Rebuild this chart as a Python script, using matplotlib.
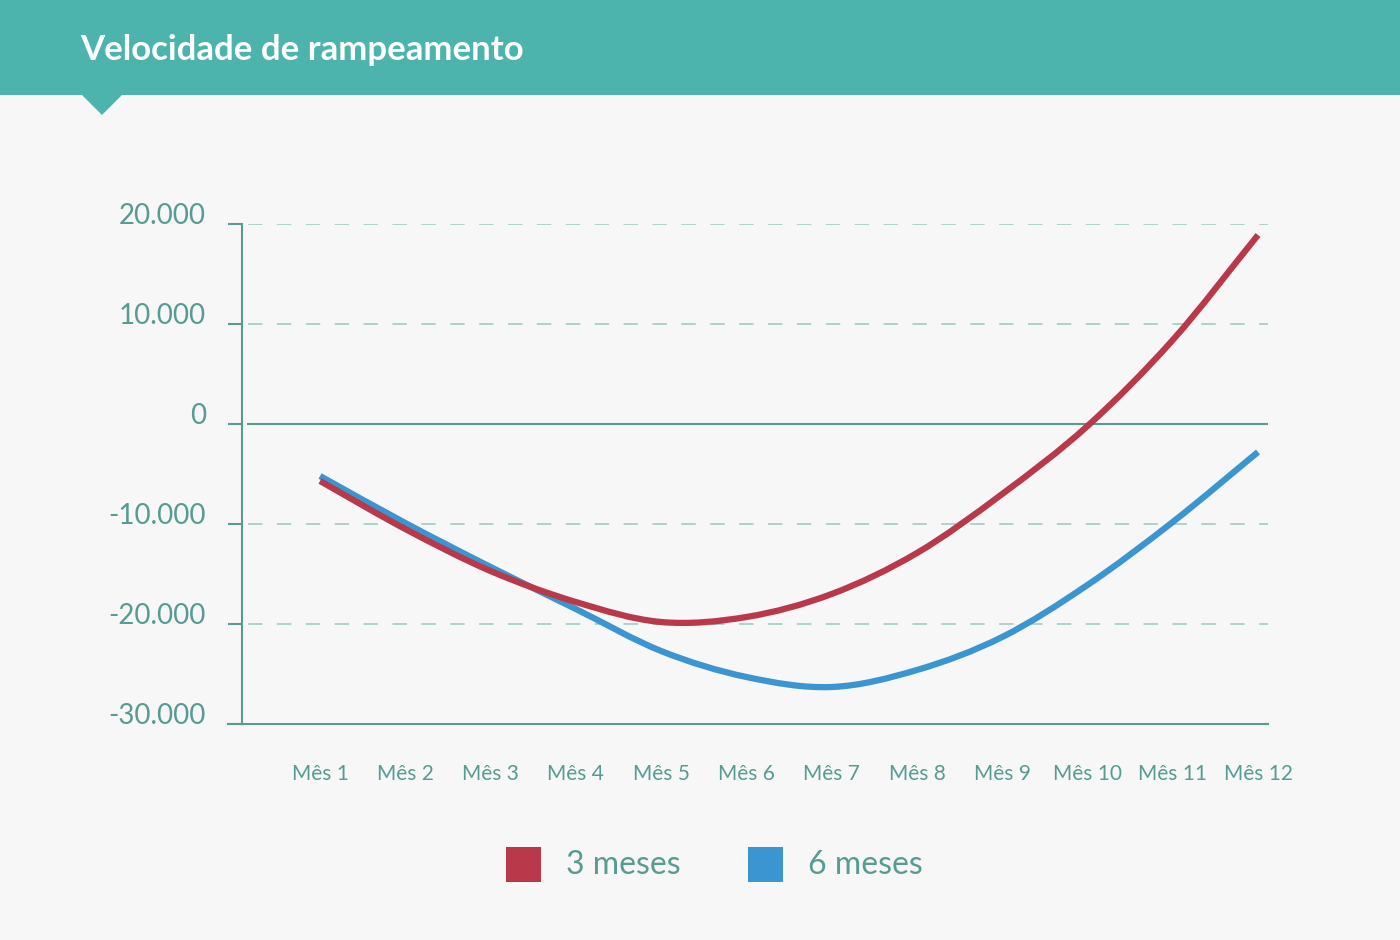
import matplotlib.pyplot as plt
from matplotlib.path import Path
from matplotlib.patches import PathPatch, Polygon, Rectangle
import numpy as np

# data
meses = ["Mês 1", "Mês 2", "Mês 3", "Mês 4", "Mês 5", "Mês 6",
         "Mês 7", "Mês 8", "Mês 9", "Mês 10", "Mês 11", "Mês 12"]
tres_meses = [-5700, -10500, -14700, -17800, -19800, -19300,
              -17000, -12900, -7000, -200, 8400, 18900]
seis_meses = [-5200, -9900, -14300, -18500, -22700, -25300,
              -26300, -24600, -21300, -16100, -9800, -2800]
y_ticks = [-30000, -20000, -10000, 0, 10000, 20000]
y_labels = ["-30.000", "-20.000", "-10.000", "0", "10.000", "20.000"]
series_names = ["3 meses", "6 meses"]

TEAL = "#4db4ad"
TXT = "#579b93"
GRID = "#a9cec8"
RED = "#b9394b"
BLUE = "#3a95d0"
BG = "#f7f7f7"

plt.rcParams['font.family'] = ['Lato', 'DejaVu Sans']

fig = plt.figure(figsize=(14, 9.4), dpi=100)
fig.patch.set_facecolor(BG)

# header band + pointer
fig.patches.append(Rectangle((0, 1 - 95 / 940), 1, 95 / 940, transform=fig.transFigure,
                             facecolor=TEAL, edgecolor="none"))
fig.patches.append(Polygon([(82 / 1400, 1 - 95 / 940), (122 / 1400, 1 - 95 / 940),
                            (102 / 1400, 1 - 115 / 940)], closed=True,
                           transform=fig.transFigure, facecolor=TEAL, edgecolor="none"))
fig.text(80 / 1400, 1 - 50 / 940, "Velocidade de rampeamento", color="white",
         fontsize=25, fontweight="bold", va="center", ha="left")

ax = fig.add_axes([242 / 1400, 216 / 940, 1026 / 1400, 500 / 940])
ax.set_facecolor(BG)
x = np.arange(1, 13)
ax.set_xlim(0.085, 12.117)
ax.set_ylim(-30000, 20000)


def smooth_path(xs, ys):
    # Catmull-Rom through the points, drawn as cubic bezier segments
    pts = np.column_stack([xs, ys]).astype(float)
    verts = [pts[0]]
    codes = [Path.MOVETO]
    n = len(pts)
    for i in range(n - 1):
        p0 = pts[i - 1] if i > 0 else 2 * pts[i] - pts[i + 1]
        p1 = pts[i]
        p2 = pts[i + 1]
        p3 = pts[i + 2] if i + 2 < n else 2 * pts[i + 1] - pts[i]
        c1 = p1 + (p2 - p0) / 6
        c2 = p2 - (p3 - p1) / 6
        verts += [c1, c2, p2]
        codes += [Path.CURVE4] * 3
    return Path(verts, codes)


# grid
for yv in y_ticks:
    if yv == 0:
        ax.axhline(yv, xmin=6 / 1026, xmax=1, color=TXT, lw=1.5, zorder=1)
    elif yv != -30000:
        ax.axhline(yv, xmin=6 / 1026, xmax=1, color=GRID, lw=1.3,
                   dashes=(8, 8), zorder=1)

ax.add_patch(PathPatch(smooth_path(x, seis_meses), fill=False, edgecolor=BLUE,
                       lw=4.5, capstyle="butt", zorder=3))
ax.add_patch(PathPatch(smooth_path(x, tres_meses), fill=False, edgecolor=RED,
                       lw=4.5, capstyle="butt", zorder=4))

for s in ["top", "right"]:
    ax.spines[s].set_visible(False)
for s in ["left", "bottom"]:
    ax.spines[s].set_color(TXT)
    ax.spines[s].set_linewidth(1.5)

ax.set_yticks(y_ticks)
ax.set_yticklabels(y_labels)
ax.tick_params(axis="y", direction="out", length=10, width=1.5, color=TXT,
               labelcolor=TXT, labelsize=20, pad=16)
for lab in ax.get_yticklabels():
    lab.set_verticalalignment("baseline")

ax.set_xticks(x)
ax.set_xticklabels(meses)
ax.tick_params(axis="x", length=0, labelcolor=TXT, labelsize=15, pad=29)

# extend bottom line to the left like a tick
ax.plot([-14 / 1026, 0], [0, 0], transform=ax.transAxes, color=TXT, lw=1.5,
        clip_on=False)

# legend
colors = [RED, BLUE]
lx = [506, 748]
for name, c, px in zip(series_names, colors, lx):
    fig.patches.append(Rectangle((px / 1400, 1 - 882 / 940), 35 / 1400, 35 / 940,
                                 transform=fig.transFigure, facecolor=c,
                                 edgecolor="none"))
    fig.text((px + 60) / 1400, 1 - 865 / 940, name, color=TXT, fontsize=23,
             va="center", ha="left")

fig.savefig("out.png", dpi=100, facecolor=BG)
